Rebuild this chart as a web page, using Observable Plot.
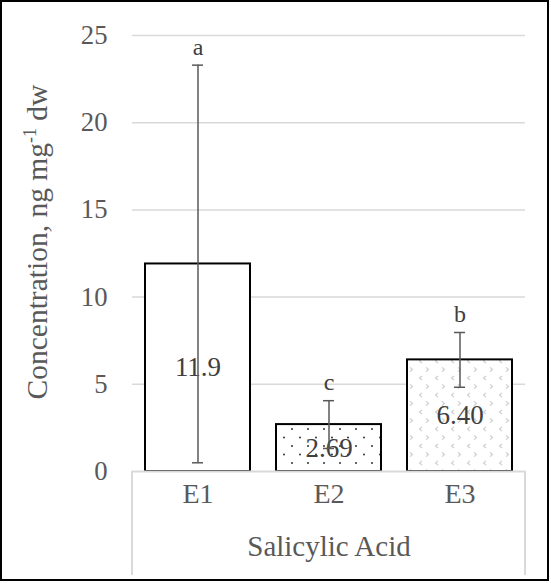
<!DOCTYPE html>
<html><head><meta charset="utf-8">
<script src="https://cdn.jsdelivr.net/npm/d3@7"></script>
<script src="https://cdn.jsdelivr.net/npm/@observablehq/plot@0.6"></script>
<style>
body{margin:0;background:#fff;}
#wrap{position:relative;width:551px;height:583px;overflow:hidden;}
#chart{position:absolute;left:0;top:0;}
#chart svg, #chart svg text, #chart svg tspan { font-family: "Liberation Serif", "Times New Roman", serif; }
#frame{position:absolute;left:0px;top:0px;width:545px;height:577px;border:2px solid #000;pointer-events:none;}
</style></head><body>
<svg width="0" height="0" style="position:absolute">
  <defs>
    <pattern id="dots" patternUnits="userSpaceOnUse" width="16" height="17">
      <rect width="16" height="17" fill="#fff"/>
      <circle cx="4" cy="4" r="1" fill="#333"/>
      <circle cx="12" cy="12.5" r="1" fill="#333"/>
    </pattern>
    <pattern id="chevrons" patternUnits="userSpaceOnUse" width="16" height="17">
      <rect width="16" height="17" fill="#fff"/>
      <polyline points="6,1.8 3.5,4 6,6.2" fill="none" stroke="#cccccc" stroke-width="1.1"/>
      <polyline points="10,10.3 12.5,12.5 10,14.7" fill="none" stroke="#cccccc" stroke-width="1.1"/>
    </pattern>
  </defs>
</svg>
<div id="wrap"><div id="chart"></div><div id="frame"></div></div>
<script>
const categories = ["E1", "E2", "E3"];
const values = [11.9, 2.69, 6.40];
const valueLabels = ["11.9", "2.69", "6.40"];
const errors = [11.4, 1.37, 1.57];
const letters = ["a", "c", "b"];
const fills = ["#ffffff", "url(#dots)", "url(#chevrons)"];
const yTicks = [0, 5, 10, 15, 20, 25];
const groupLabel = "Salicylic Acid";
const yTitleMain = "Concentration, ng mg";
const yTitleSup = "-1";
const yTitleEnd = " dw";

const data = categories.map((c, i) => ({
  cat: c, value: values[i], label: valueLabels[i], err: errors[i], letter: letters[i], fill: fills[i]
}));

const W = 551, H = 583;
const mL = 132, mR = 26, mT = 35, mB = 112;
const FS = 26.7;
const FF = "Liberation Serif";

const chart = Plot.plot({
  width: W, height: H,
  marginLeft: mL, marginRight: mR, marginTop: mT, marginBottom: mB,
  style: {fontFamily: FF, color: "#595959", background: "transparent"},
  x: {domain: categories, paddingInner: 0.2, paddingOuter: 0.1, axis: null},
  y: {domain: [0, 25], axis: null},
  color: {type: "identity"},
  marks: [
    Plot.ruleY(yTicks.filter(d => d > 0), {stroke: "#d9d9d9", strokeWidth: 1.5}),
    Plot.axisY({ticks: yTicks, tickSize: 0, tickPadding: 25, fontSize: FS, fontFamily: FF, label: null, fill: "#595959"}),
    Plot.barY(data, {x: "cat", y: "value", fill: "fill", stroke: "#000", strokeWidth: 2}),
    Plot.ruleY([0], {stroke: "#d9d9d9", strokeWidth: 2}),
    Plot.text(data, {x: "cat", y: d => d.value / 2, text: "label", fontSize: 27, fontFamily: FF, fill: "#404040"}),
    Plot.ruleX(data, {x: "cat", y1: d => d.value - d.err, y2: d => d.value + d.err, stroke: "#595959", strokeWidth: 1.5}),
    Plot.tickY(data, {x: "cat", y: d => d.value - d.err, stroke: "#595959", strokeWidth: 1.5, insetLeft: 47, insetRight: 47}),
    Plot.tickY(data, {x: "cat", y: d => d.value + d.err, stroke: "#595959", strokeWidth: 1.5, insetLeft: 47, insetRight: 47}),
    Plot.text(data, {x: "cat", y: d => d.value + d.err, text: "letter", dy: -18, fontSize: 24, fontFamily: FF, fill: "#404040"}),
    Plot.text(data, {x: "cat", text: "cat", frameAnchor: "bottom", dy: 31, fontSize: 28, fontFamily: FF, fill: "#595959"}),
    Plot.text([groupLabel], {text: d => d, frameAnchor: "bottom", dy: 84, fontSize: 29, fontFamily: FF, fill: "#595959"})
  ]
});
document.getElementById("chart").appendChild(chart);

const svg = d3.select(chart);
// category box sides
const boxG = svg.append("g").attr("stroke", "#d9d9d9").attr("stroke-width", 2);
[mL, W - mR].forEach(x => boxG.append("line").attr("x1", x).attr("x2", x).attr("y1", H - mB).attr("y2", 575));
// y axis title with superscript
const t = svg.append("text")
  .attr("transform", "translate(37,242) rotate(-90)")
  .attr("text-anchor", "middle")
  .attr("dy", "0.35em")
  .attr("font-family", FF)
  .attr("font-size", 29.5)
  .attr("fill", "#595959");
t.append("tspan").text(yTitleMain);
t.append("tspan").attr("dy", -11).attr("font-size", 18).text(yTitleSup);
t.append("tspan").attr("dy", 11).text(yTitleEnd);
</script>
</body></html>
